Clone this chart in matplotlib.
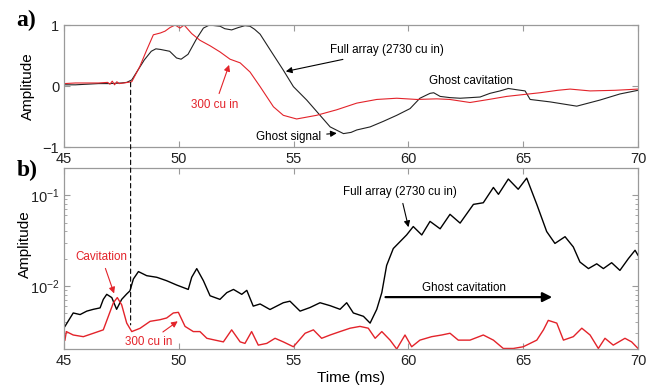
import numpy as np
import matplotlib
matplotlib.use("Agg")
import matplotlib.pyplot as plt
from matplotlib.patches import ConnectionPatch

plt.rcParams['font.family'] = ['Liberation Sans', 'DejaVu Sans']
plt.rcParams['axes.unicode_minus'] = True

RED = '#e3232a'
GRAY = '#9a9a9a'

# (a) normalised signatures
t_full_a = [45.0, 45.5, 46.0, 46.5, 47.0, 47.5, 47.73, 47.95, 48.2, 48.5, 48.8, 49.0,
            49.2, 49.6, 49.9, 50.1, 50.4, 50.78, 51.07, 51.33, 51.8, 52.0, 52.3, 52.6,
            52.88, 53.1, 53.3, 53.54, 54.0, 54.55, 54.99, 55.57, 56.15, 56.59, 57.17,
            57.5, 57.75, 58.33, 58.9, 59.49, 60.07, 60.5, 60.94, 61.1, 61.38, 61.81,
            62.25, 62.7, 63.12, 63.55, 63.99, 64.35, 64.7, 65.08, 65.3, 66.17, 67.33,
            68.34, 69.21, 70.0]
a_full = [0.02, 0.02, 0.03, 0.04, 0.04, 0.05, 0.06, 0.10, 0.25, 0.43, 0.57, 0.61,
          0.60, 0.57, 0.46, 0.44, 0.52, 0.78, 0.95, 1.00, 0.98, 0.94, 0.92, 0.96,
          0.99, 0.98, 0.93, 0.85, 0.58, 0.26, -0.01, -0.23, -0.48, -0.67, -0.78,
          -0.76, -0.72, -0.67, -0.58, -0.48, -0.37, -0.20, -0.12, -0.11, -0.17, -0.19,
          -0.20, -0.19, -0.18, -0.12, -0.08, -0.04, -0.06, -0.08, -0.22, -0.26, -0.33,
          -0.23, -0.13, -0.07]

t_small_a = [45.0, 45.5, 46.0, 46.5, 46.9, 47.0, 47.1, 47.2, 47.3, 47.4, 47.6, 47.95,
             48.3, 48.6, 48.89, 49.2, 49.4, 49.62, 49.84, 50.05, 50.23, 50.56, 50.92,
             51.36, 51.79, 52.23, 52.67, 53.1, 53.54, 54.12, 54.55, 55.13, 56.0, 56.87,
             57.75, 58.62, 59.49, 60.36, 61.23, 61.8, 62.68, 63.5, 64.28, 65.0, 65.73,
             66.5, 67.04, 67.91, 69.0, 70.0]
a_small = [0.04, 0.05, 0.05, 0.05, 0.06, 0.03, 0.08, 0.02, 0.07, 0.04, 0.05, 0.07,
           0.32, 0.59, 0.84, 0.87, 0.90, 0.96, 1.00, 0.95, 1.00, 0.86, 0.75,
           0.66, 0.56, 0.44, 0.38, 0.23, -0.01, -0.34, -0.48, -0.54, -0.48, -0.39,
           -0.28, -0.22, -0.20, -0.22, -0.21, -0.22, -0.27, -0.22, -0.17, -0.14, -0.11,
           -0.07, -0.05, -0.08, -0.07, -0.05]

# (b) envelopes, log scale
t_full_b = [45.04, 45.4, 45.7, 45.99, 46.28, 46.57, 46.71, 46.86, 47.08, 47.29, 47.51,
            47.73, 47.87, 48.02, 48.24, 48.6, 49.04, 49.47, 49.91, 50.41, 50.56, 50.78,
            51.07, 51.36, 51.79, 52.09, 52.38, 52.74, 52.96, 53.24, 53.54, 53.97, 54.55,
            54.84, 55.28, 55.71, 56.15, 56.59, 57.02, 57.31, 57.6, 58.04, 58.33, 58.62,
            58.84, 59.05, 59.34, 59.63, 59.92, 60.21, 60.58, 60.94, 61.38, 61.81, 62.25,
            62.83, 63.26, 63.7, 63.92, 64.35, 64.78, 65.15, 65.59, 66.02, 66.38, 66.82,
            67.18, 67.47, 67.84, 68.2, 68.49, 68.85, 69.21, 69.58, 69.87, 70.0]
b_full = [0.00356, 0.00501, 0.00481, 0.00525, 0.00550, 0.00570, 0.00708, 0.00805,
          0.00741, 0.00550, 0.00708, 0.00813, 0.00879, 0.01189, 0.01436, 0.01294,
          0.01242, 0.01138, 0.01019, 0.00912, 0.01242, 0.01549, 0.01138, 0.00776,
          0.00708, 0.00841, 0.00912, 0.00805, 0.00891, 0.00596, 0.00630, 0.00547,
          0.00650, 0.00676, 0.00525, 0.00575, 0.00650, 0.00603, 0.00550, 0.00650,
          0.00501, 0.00460, 0.00387, 0.00550, 0.00841, 0.01679, 0.02582, 0.03069,
          0.03648, 0.04519, 0.03648, 0.05152, 0.04266, 0.06166, 0.04932, 0.07943,
          0.08279, 0.1222, 0.1026, 0.1514, 0.1167, 0.1549, 0.0794, 0.0398, 0.0294,
          0.0349, 0.0269, 0.0183, 0.0155, 0.0175, 0.0155, 0.0180, 0.0148, 0.0200,
          0.0247, 0.0217]

t_small_b = [45.04, 45.1, 45.4, 45.84, 46.28, 46.71, 46.93, 47.15, 47.32, 47.51, 47.73,
             47.95, 48.31, 48.75, 49.18, 49.47, 49.76, 49.98, 50.27, 50.63, 50.92, 51.22,
             51.58, 51.94, 52.3, 52.67, 52.88, 53.17, 53.46, 53.83, 54.19, 54.55, 54.99,
             55.5, 55.86, 56.22, 56.59, 57.02, 57.46, 57.89, 58.25, 58.55, 58.84, 59.2,
             59.49, 59.85, 60.14, 60.5, 61.01, 61.45, 61.81, 62.17, 62.68, 63.26, 63.7,
             64.13, 64.57, 65.0, 65.59, 65.88, 66.09, 66.46, 66.75, 67.18, 67.55, 67.91,
             68.27, 68.56, 68.92, 69.43, 69.72, 70.0]
b_small = [0.00251, 0.00312, 0.00286, 0.00274, 0.00299, 0.00326, 0.00460, 0.00650,
           0.00741, 0.00617, 0.00387, 0.00312, 0.00339, 0.00405, 0.00422, 0.00441,
           0.00501, 0.00509, 0.00356, 0.00312, 0.00312, 0.00263, 0.00251, 0.00240,
           0.00326, 0.00240, 0.00231, 0.00312, 0.00221, 0.00231, 0.00263, 0.00240,
           0.00212, 0.00299, 0.00326, 0.00263, 0.00286, 0.00312, 0.00340, 0.00356,
           0.00340, 0.00263, 0.00312, 0.00251, 0.00200, 0.00286, 0.00212, 0.00251,
           0.00274, 0.00286, 0.00299, 0.00251, 0.00251, 0.00286, 0.00251, 0.00203,
           0.00203, 0.00212, 0.00251, 0.00326, 0.00415, 0.00387, 0.00251, 0.00274,
           0.00340, 0.00286, 0.00203, 0.00263, 0.00221, 0.00263, 0.00240, 0.00203]

t_onset = 47.9

fig = plt.figure(figsize=(6.67, 3.90), dpi=100)
ax1 = fig.add_axes([0.096, 0.623, 0.8606, 0.3128])
ax2 = fig.add_axes([0.096, 0.105, 0.8606, 0.464])


def style(ax):
    for s in ax.spines.values():
        s.set_color(GRAY)
        s.set_linewidth(0.9)
    ax.tick_params(which='both', direction='in', top=True, right=True,
                   color=GRAY, labelsize=10.5, labelcolor='#222222')
    ax.tick_params(which='major', length=4)
    ax.tick_params(which='minor', length=2.5)
    ax.set_xlim(45, 70)
    ax.set_xticks([45, 50, 55, 60, 65, 70])


# top panel
ax1.plot(t_full_a, a_full, color='#222222', lw=0.8)
ax1.plot(t_small_a, a_small, color=RED, lw=0.8)
style(ax1)
ax1.set_ylim(-1, 1)
ax1.set_yticks([-1, 0, 1])
ax1.set_ylabel('Amplitude', fontsize=11)
ax1.yaxis.set_label_coords(-0.05, 0.5)

FS = 8.4
arr = dict(arrowstyle='-|>', color='black', lw=0.8, mutation_scale=9)
arr_r = dict(arrowstyle='-|>', color=RED, lw=0.8, mutation_scale=9)
ax1.annotate('Full array (2730 cu in)', xy=(54.54, 0.23), xytext=(56.6, 0.59),
             fontsize=FS, va='center', ha='left', arrowprops=arr)
ax1.annotate('300 cu in', xy=(52.23, 0.39), xytext=(51.58, -0.31),
             fontsize=FS, va='center', ha='center', color=RED, arrowprops=arr_r)
ax1.annotate('Ghost signal', xy=(57.0, -0.77), xytext=(56.2, -0.84),
             fontsize=FS, va='center', ha='right', arrowprops=arr)
ax1.text(62.73, 0.09, 'Ghost cavitation', fontsize=FS, ha='center', va='center')

# bottom panel
ax2.plot(t_full_b, b_full, color='black', lw=1.0)
ax2.plot(t_small_b, b_small, color=RED, lw=1.0)
ax2.set_yscale('log')
style(ax2)
ax2.set_ylim(0.002, 0.2)
ax2.set_ylabel('Amplitude', fontsize=11)
ax2.yaxis.set_label_coords(-0.055, 0.58)
ax2.set_xlabel('Time (ms)', fontsize=11, labelpad=2)

ax2.annotate('Full array (2730 cu in)', xy=(60.03, 0.0415), xytext=(57.16, 0.109),
             fontsize=FS, va='center', ha='left', arrowprops=arr)
ax2.annotate('', xy=(66.38, 0.0075), xytext=(58.88, 0.0075),
             arrowprops=dict(arrowstyle='-|>', color='black', lw=1.6, mutation_scale=14))
ax2.text(62.42, 0.0094, 'Ghost cavitation', fontsize=FS, ha='center', va='center')
ax2.annotate('Cavitation', xy=(47.22, 0.0077), xytext=(46.63, 0.0208),
             fontsize=FS, va='center', ha='center', color=RED, arrowprops=arr_r)
ax2.annotate('300 cu in', xy=(50.05, 0.00423), xytext=(48.68, 0.00237),
             fontsize=FS, va='center', ha='center', color=RED, arrowprops=arr_r)

# onset marker spanning both panels
con = ConnectionPatch(xyA=(t_onset, 0.06), coordsA=ax1.transData,
                      xyB=(t_onset, 0.0037), coordsB=ax2.transData,
                      color='black', lw=0.8, linestyle=(0, (4, 3)))
fig.add_artist(con)

fig.text(0.025, 0.948, 'a)', fontsize=17, fontweight='bold',
         family='Liberation Serif', va='center', ha='left')
fig.text(0.025, 0.562, 'b)', fontsize=17, fontweight='bold',
         family='Liberation Serif', va='center', ha='left')

fig.savefig('out.png', dpi=100)
